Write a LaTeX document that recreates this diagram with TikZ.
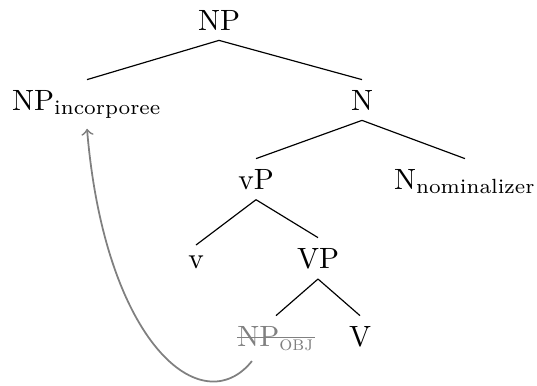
\documentclass[tikz,border=0pt]{standalone}
\usepackage{amsmath}

\begin{document}
\begin{tikzpicture}[x=0.341pt, y=-0.341pt,
    kat/.style={anchor=base},
    spur/.style={anchor=base, gray},
    bewegung/.style={->, gray, semithick},
]

\useasboundingbox (0,0) rectangle (537,385);

\node [kat] (NP) at (219,30) {NP};
\node [kat] (NPinc) at (87,110) {NP$_{\text{incorporee}}$};
\node [kat] (N) at (362,110) {N};
\node [kat] (vP) at (256,189) {vP};
\node [kat] (Nnom) at (465,189) {N$_{\text{nominalizer}}$};
\node [kat] (v) at (196,268) {v};
\node [kat] (VP) at (318,268) {VP};
\node [spur] (NPobj) at (276,346) {NP$_{\textsc{obj}}$};
\node [kat] (V) at (360,346) {V};

\draw (NP.south) -- (NPinc.north);
\draw (NP.south) -- (N.north);
\draw (N.south) -- (vP.north);
\draw (N.south) -- (Nnom.north);
\draw (vP.south) -- (v.north);
\draw (vP.south) -- (VP.north);
\draw (VP.south) -- (NPobj.north);
\draw (VP.south) -- (V.north);

\draw [gray] ([xshift=3.33pt,yshift=2.8pt]NPobj.base west) -- ([xshift=-3.33pt,yshift=2.8pt]NPobj.base east);

\draw [bewegung] ([xshift=-8.2pt]NPobj.south) .. controls +(-50,62) and +(18,215) .. (NPinc.south);

\end{tikzpicture}
\end{document}
